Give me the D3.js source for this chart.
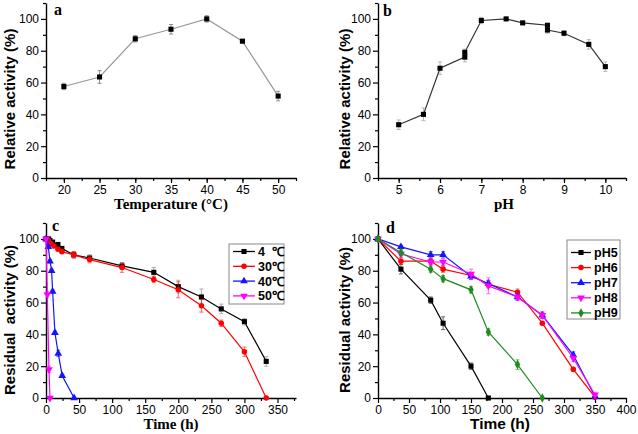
<!DOCTYPE html>
<html><head><meta charset="utf-8">
<script src="https://cdn.jsdelivr.net/npm/d3@7"></script>
<style>body{margin:0;background:#fff}svg{display:block}</style>
</head><body>
<svg id="c" width="638" height="434"></svg>
<script>
// ---- Panel a: temperature ----
const tempX = [20, 25, 30, 35, 40, 45, 50];
const tempY = [57.5, 63.5, 87.5, 93.5, 100, 86, 51.5];
const tempErr = [2, 4, 2, 3, 2, 1, 3];
// ---- Panel b: pH ----
const phX = [5, 5.6, 6, 6.6, 6.6, 7, 7.6, 8, 8.6, 8.6, 9, 9.6, 10];
const phY = [33.5, 40, 69, 76, 79, 99, 100, 97.5, 96, 93, 91, 84, 70];
const phErr = [3, 4, 4, 3, 2, 2, 1, 1, 1, 2, 1.5, 3, 3];
// ---- Panel c: thermal stability ----
const t4 = [0, 4, 6, 10, 18, 24, 42, 66, 115, 163, 200, 235, 265, 300, 333];
const v4 = [100, 100, 99, 98, 96.5, 94, 90, 88, 83, 79, 70, 63.5, 56, 48, 23];
const e4 = [1, 1, 1, 1, 1, 1, 2, 2, 2, 3, 4, 5, 3, 2, 3];
const t30 = [0, 3.5, 7.5, 12, 18, 24, 42, 66, 115, 163, 200, 235, 265, 300, 333];
const v30 = [100, 99, 97, 95.5, 93.5, 92, 90, 87, 82, 74.5, 68, 58, 47, 29, 0];
const e30 = [1, 1, 1, 1, 1, 1, 2, 2, 3, 2, 5, 4, 2, 3, 0];
const t40 = [0, 3.5, 6, 8.5, 10, 13.5, 18.5, 24.5, 42.5];
const v40 = [100, 95, 86, 80, 67, 41, 28, 14, 0];
const e40 = [0, 1, 1, 1, 1, 1, 2, 1, 0];
const t50 = [0, 2, 4.5, 6];
const v50 = [100, 65, 18, 0];
const e50 = [0, 2, 2, 0];
const cLabels = ["4  \u2103", "30\u2103", "40\u2103", "50\u2103"];
// ---- Panel d: pH stability ----
const tpH = [0, 37, 85, 105, 150, 178, 225, 265, 315, 350];
const pH5 = [100, 81, 61.5, 47, 20, 0];
const pH6 = [100, 86, 86, 81, 77, 71.5, 66.5, 47, 18, 0.5];
const pH7 = [100, 95, 90, 90, 76.5, 72, 63.5, 52, 27, 1];
const pH8 = [100, 90.5, 85.5, 85.5, 78, 70.5, 63.5, 52, 25, 2];
const pH9 = [100, 91.5, 81, 75, 68, 41.5, 21, 0];
const pH5e = [0, 3, 2, 4, 2, 0];
const pH6e = [0, 2, 2, 2, 2, 2, 2, 1, 1, 1];
const pH7e = [0, 1, 2, 2, 2, 2, 2, 2, 2, 1];
const pH8e = [0, 2, 2, 2, 3, 5, 2, 2, 2, 1];
const pH9e = [0, 2, 2, 2, 2, 2, 3, 0];
const dLabels = ["pH5", "pH6", "pH7", "pH8", "pH9"];

const svg = d3.select("#c");
const SANS = "'Liberation Sans', Arial, sans-serif";
const SERIF = "'Liberation Serif', 'Times New Roman', serif";

function seq(a, b, s) { const r = []; for (let v = a; v <= b + 1e-9; v += s) r.push(+v.toFixed(4)); return r; }

function makePanel(o) {
  const x = d3.scaleLinear().domain(o.xd).range(o.xr);
  const y = d3.scaleLinear().domain([0, 110]).range(o.yr);
  const g = svg.append("g");
  // minor ticks
  const mx = g.append("g").attr("transform", `translate(0,${o.yr[0]})`)
    .call(d3.axisBottom(x).tickValues(o.xMinor).tickSize(3).tickFormat(""));
  mx.select(".domain").remove();
  const my = g.append("g").attr("transform", `translate(${o.xr[0]},0)`)
    .call(d3.axisLeft(y).tickValues(seq(10, 110, 20)).tickSize(3).tickFormat(""));
  my.select(".domain").remove();
  const ax = g.append("g").attr("transform", `translate(0,${o.yr[0]})`)
    .call(d3.axisBottom(x).tickValues(o.xMajor).tickSize(5).tickSizeOuter(0).tickPadding(2).tickFormat(d3.format("~g")));
  const ay = g.append("g").attr("transform", `translate(${o.xr[0]},0)`)
    .call(d3.axisLeft(y).tickValues(seq(0, 100, 20)).tickSize(5).tickSizeOuter(0).tickPadding(2));
  g.selectAll(".tick line").attr("stroke", "#000").attr("stroke-width", 1.2);
  g.selectAll(".domain").attr("stroke", "#000").attr("stroke-width", 1.4);
  g.selectAll(".tick text").attr("font-family", SANS).attr("font-size", 12).attr("fill", "#000");
  // titles
  g.append("text").attr("transform", `translate(${o.ytX},${o.ytY}) rotate(-90)`)
    .attr("text-anchor", "middle").attr("font-family", SANS).attr("font-weight", "bold")
    .attr("font-size", 15).style("white-space", "pre").text(o.yTitle);
  g.append("text").attr("x", o.xtX).attr("y", o.xtY).attr("text-anchor", "middle")
    .attr("font-family", o.xtFont).attr("font-weight", "bold").attr("font-size", o.xtSize).text(o.xTitle);
  g.append("text").attr("x", o.lx).attr("y", o.ly).attr("font-family", SERIF)
    .attr("font-weight", "bold").attr("font-size", 16).text(o.letter);
  return { g, x, y };
}

const sym = {
  sq: d3.symbol().type(d3.symbolSquare).size(26),
  ci: d3.symbol().type(d3.symbolCircle).size(24),
  tr: d3.symbol().type(d3.symbolTriangle).size(26),
  di: d3.symbol().type(d3.symbolDiamond).size(26)
};

function series(p, xs, ys, es, color, shape, lineColor, errColor) {
  const pts = ys.map((v, i) => ({ x: xs[i], y: v, e: es[i] }));
  p.g.append("path").datum(pts).attr("fill", "none").attr("stroke", lineColor || color)
    .attr("stroke-width", 1.2).attr("d", d3.line().x(d => p.x(d.x)).y(d => p.y(d.y)));
  const eb = p.g.append("g").attr("stroke", errColor || color).attr("stroke-width", 1).attr("opacity", 0.6);
  pts.filter(d => d.e > 0).forEach(d => {
    const cx = p.x(d.x), y1 = p.y(d.y + d.e), y2 = p.y(d.y - d.e);
    eb.append("line").attr("x1", cx).attr("x2", cx).attr("y1", y1).attr("y2", y2);
    eb.append("line").attr("x1", cx - 2).attr("x2", cx + 2).attr("y1", y1).attr("y2", y1);
    eb.append("line").attr("x1", cx - 2).attr("x2", cx + 2).attr("y1", y2).attr("y2", y2);
  });
  p.g.append("g").selectAll("path").data(pts).join("path")
    .attr("d", shape === "td" ? sym.tr : sym[shape]).attr("fill", color)
    .attr("transform", d => `translate(${p.x(d.x)},${p.y(d.y)})` + (shape === "td" ? " rotate(180)" : ""));
}

function legend(p, bx, by, bw, bh, items, y0, dy, lx1, lx2, tx) {
  p.g.append("rect").attr("x", bx).attr("y", by).attr("width", bw).attr("height", bh)
    .attr("fill", "#fff").attr("stroke", "#888").attr("stroke-width", 1);
  items.forEach((it, i) => {
    const yy = y0 + i * dy;
    p.g.append("line").attr("x1", lx1).attr("x2", lx2).attr("y1", yy).attr("y2", yy)
      .attr("stroke", it.color).attr("stroke-width", 1.3);
    p.g.append("path").attr("d", it.shape === "td" ? sym.tr : sym[it.shape]).attr("fill", it.color)
      .attr("transform", `translate(${(lx1 + lx2) / 2},${yy})` + (it.shape === "td" ? " rotate(180)" : ""));
    p.g.append("text").attr("x", tx).attr("y", yy + 4.5).attr("font-family", SANS).attr("font-weight", "bold")
      .attr("font-size", 12.5).attr("fill", "#000").style("white-space", "pre").text(it.label);
  });
}

// Panel a
const pa = makePanel({ xd: [17.5, 52.5], xr: [46, 296], yr: [178, 3],
  xMajor: seq(20, 50, 5), xMinor: seq(17.5, 52.5, 2.5),
  yTitle: "Relative activity (%)", ytX: 15, ytY: 99,
  xTitle: "Temperature (\u00b0C)", xtX: 171, xtY: 209, xtFont: SERIF, xtSize: 15,
  letter: "a", lx: 54, ly: 14.5 });
series(pa, tempX, tempY, tempErr, "#000", "sq", "#999", "#444");

// Panel b
const pb = makePanel({ xd: [4.5, 10.5], xr: [378, 626], yr: [178, 3],
  xMajor: seq(5, 10, 1), xMinor: seq(4.5, 10.5, 0.5),
  yTitle: "Relative activity (%)", ytX: 350, ytY: 99,
  xTitle: "pH", xtX: 504, xtY: 209, xtFont: SERIF, xtSize: 15,
  letter: "b", lx: 383, ly: 15.5 });
series(pb, phX, phY, phErr, "#000", "sq", "#333", "#888");

// Panel c
const pc = makePanel({ xd: [0, 378], xr: [46, 296], yr: [398, 223],
  xMajor: seq(0, 350, 50), xMinor: seq(25, 375, 50),
  yTitle: "Residual  activity (%)", ytX: 15, ytY: 320,
  xTitle: "Time (h)", xtX: 171, xtY: 429, xtFont: SERIF, xtSize: 15,
  letter: "c", lx: 52, ly: 231 });
series(pc, t4, v4, e4, "#000", "sq", "#000", "#777");
series(pc, t30, v30, e30, "#ff0000", "ci");
series(pc, t40, v40, e40, "#1414ff", "tr");
series(pc, t50, v50, e50, "#ff00ff", "td");
legend(pc, 229, 244, 55, 60, [
  { label: cLabels[0], color: "#000", shape: "sq" },
  { label: cLabels[1], color: "#ff0000", shape: "ci" },
  { label: cLabels[2], color: "#1414ff", shape: "tr" },
  { label: cLabels[3], color: "#ff00ff", shape: "td" }], 251.5, 14.8, 233, 255, 258);

// Panel d
const pd = makePanel({ xd: [0, 400], xr: [378, 626], yr: [398, 223],
  xMajor: seq(0, 400, 50), xMinor: seq(25, 375, 50),
  yTitle: "Residual activity (%)", ytX: 350, ytY: 320,
  xTitle: "Time (h)", xtX: 500, xtY: 429, xtFont: SANS, xtSize: 15.5,
  letter: "d", lx: 386, ly: 233 });
series(pd, tpH.slice(0, pH5.length), pH5, pH5e, "#000", "sq");
series(pd, tpH, pH6, pH6e, "#ff0000", "ci");
series(pd, tpH, pH7, pH7e, "#1414ff", "tr");
series(pd, tpH, pH8, pH8e, "#ff00ff", "td");
series(pd, tpH.slice(0, pH9.length), pH9, pH9e, "#1e8c1e", "di");
legend(pd, 567, 240, 53, 79, [
  { label: dLabels[0], color: "#000", shape: "sq" },
  { label: dLabels[1], color: "#ff0000", shape: "ci" },
  { label: dLabels[2], color: "#1414ff", shape: "tr" },
  { label: dLabels[3], color: "#ff00ff", shape: "td" },
  { label: dLabels[4], color: "#1e8c1e", shape: "di" }], 252.5, 15.1, 571, 591, 594);
</script>
</body></html>
